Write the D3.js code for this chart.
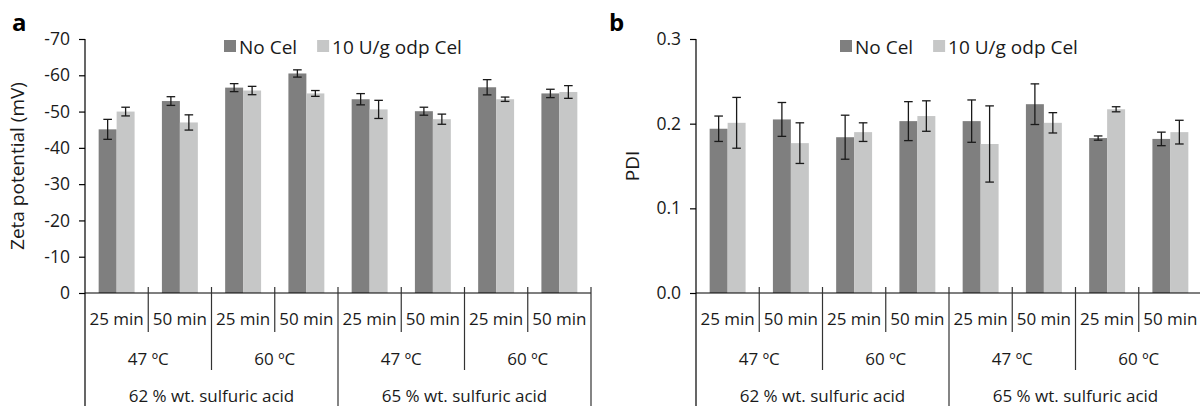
<!DOCTYPE html>
<html>
<head>
<meta charset="utf-8">
<script src="https://cdn.jsdelivr.net/npm/d3@7"></script>
<style>
    body { margin: 0; background: #fff; }
    svg { display: block; }
</style>
</head>
<body>
<div id="chart"></div>
<script>
// categories (three levels of the x axis)
const times = ["25 min", "50 min", "25 min", "50 min", "25 min", "50 min", "25 min", "50 min"];
const temps = ["47 ºC", "60 ºC", "47 ºC", "60 ºC"];
const acids = ["62 % wt. sulfuric acid", "65 % wt. sulfuric acid"];
const seriesNames = ["No Cel", "10 U/g odp Cel"];

// panel a: zeta potential (mV)
const zetaNoCel = [-45.1, -52.9, -56.6, -60.5, -53.4, -50.1, -56.7, -55.0];
const zetaNoCelErr = [2.75, 1.2, 1.1, 1.0, 1.55, 1.1, 2.1, 1.15];
const zetaCel = [-50.0, -47.0, -55.8, -55.0, -50.6, -47.9, -53.4, -55.4];
const zetaCelErr = [1.2, 2.1, 1.15, 0.8, 2.5, 1.4, 0.6, 1.75];
const zetaTicks = [0, -10, -20, -30, -40, -50, -60, -70];

// panel b: PDI
const pdiNoCel = [0.194, 0.205, 0.184, 0.203, 0.203, 0.223, 0.183, 0.182];
const pdiNoCelErr = [0.015, 0.020, 0.026, 0.023, 0.025, 0.024, 0.0025, 0.008];
const pdiCel = [0.201, 0.177, 0.190, 0.209, 0.176, 0.201, 0.217, 0.190];
const pdiCelErr = [0.030, 0.024, 0.011, 0.018, 0.045, 0.012, 0.003, 0.014];
const pdiTicks = [0, 0.1, 0.2, 0.3];

const font = "'Open Sans', sans-serif";
const colours = ["#7f7f7f", "#c6c7c7"];

const svg = d3.select("#chart").append("svg")
    .attr("width", 1200)
    .attr("height", 406);

drawPanel({
    letter: "a", letterX: 12,
    left: 85, right: 591,
    domain: [0, -70], ticks: zetaTicks, tickFormat: d => String(d),
    title: "Zeta potential (mV)", titleX: 17,
    legendX: 224,
    values: [zetaNoCel, zetaCel], errors: [zetaNoCelErr, zetaCelErr]
});

drawPanel({
    letter: "b", letterX: 609,
    left: 696, right: 1202,
    domain: [0, 0.3], ticks: pdiTicks, tickFormat: d3.format(".1f"),
    title: "PDI", titleX: 632,
    legendX: 840,
    values: [pdiNoCel, pdiCel], errors: [pdiNoCelErr, pdiCelErr]
});

function drawPanel(cfg) {
    const top = 39, base = 293;
    const g = svg.append("g");

    const idx = d3.range(times.length);
    const x0 = d3.scaleBand().domain(idx).range([cfg.left, cfg.right]);
    const x1 = d3.scaleBand().domain([0, 1]).range([0, x0.bandwidth()]).paddingOuter(0.76);
    const y = d3.scaleLinear().domain(cfg.domain).range([base, top]);

    // panel letter
    g.append("text")
        .attr("x", cfg.letterX).attr("y", 31)
        .style("font-family", font).style("font-weight", 700).style("font-size", "24px")
        .text(cfg.letter);

    // y axis
    g.append("g")
        .attr("transform", `translate(${cfg.left}, 0)`)
        .style("font-family", font)
        .style("font-size", "17.5px")
        .call(d3.axisLeft(y)
            .tickValues(cfg.ticks)
            .tickFormat(cfg.tickFormat)
            .tickSize(6)
            .tickPadding(9)
            .tickSizeOuter(0))
        .call(a => a.select(".domain").remove())
        .call(a => a.selectAll(".tick line").attr("stroke", "#000").attr("stroke-width", 1.2))
        .call(a => a.selectAll(".tick text").attr("fill", "#1a1a1a"));

    g.append("line")
        .attr("x1", cfg.left).attr("x2", cfg.left)
        .attr("y1", top).attr("y2", 406)
        .attr("stroke", "#000").attr("stroke-width", 1.2);

    // y title
    g.append("text")
        .attr("transform", `translate(${cfg.titleX}, ${(top + base) / 2}) rotate(-90)`)
        .attr("text-anchor", "middle")
        .attr("dominant-baseline", "central")
        .style("font-family", font).style("font-size", "19px")
        .attr("fill", "#1a1a1a")
        .text(cfg.title);

    // bars
    cfg.values.forEach((vals, s) => {
        g.append("g")
            .selectAll("rect")
            .data(idx)
            .enter()
            .append("rect")
            .attr("fill", colours[s])
            .attr("x", i => x0(i) + x1(s))
            .attr("width", x1.bandwidth())
            .attr("y", i => Math.min(y(vals[i]), y(0)))
            .attr("height", i => Math.abs(y(0) - y(vals[i])));
    });

    // error bars
    cfg.values.forEach((vals, s) => {
        const errs = cfg.errors[s];
        const eg = g.append("g")
            .attr("stroke", "#1a1a1a")
            .attr("stroke-width", 1.3);
        idx.forEach(i => {
            const cx = x0(i) + x1(s) + x1.bandwidth() / 2;
            const hi = y(vals[i] + errs[i]);
            const lo = y(vals[i] - errs[i]);
            eg.append("line").attr("x1", cx).attr("x2", cx).attr("y1", hi).attr("y2", lo);
            eg.append("line").attr("x1", cx - 4.3).attr("x2", cx + 4.3).attr("y1", hi).attr("y2", hi);
            eg.append("line").attr("x1", cx - 4.3).attr("x2", cx + 4.3).attr("y1", lo).attr("y2", lo);
        });
    });

    // x axis line
    g.append("line")
        .attr("x1", cfg.left).attr("x2", cfg.right)
        .attr("y1", base).attr("y2", base)
        .attr("stroke", "#000").attr("stroke-width", 1.2);

    // category separators: deeper lines for higher levels
    d3.range(1, times.length + 1).forEach(k => {
        const xb = k < times.length ? x0(k) : cfg.right;
        const yEnd = k % 4 === 0 ? 406 : (k % 2 === 0 ? 370 : 332);
        g.append("line")
            .attr("x1", xb).attr("x2", xb)
            .attr("y1", base - 6).attr("y2", yEnd)
            .attr("stroke", "#333").attr("stroke-width", 1.2);
    });

    const labelStyle = sel => sel
        .attr("text-anchor", "middle")
        .attr("dominant-baseline", "central")
        .style("font-family", font)
        .style("font-size", "17px")
        .attr("fill", "#1a1a1a");

    g.append("g").selectAll("text")
        .data(times).enter().append("text")
        .attr("x", (d, i) => x0(i) + x0.bandwidth() / 2)
        .attr("y", 318)
        .call(labelStyle)
        .text(d => d);

    g.append("g").selectAll("text")
        .data(temps).enter().append("text")
        .attr("x", (d, j) => x0(2 * j) + x0.bandwidth())
        .attr("y", 358)
        .call(labelStyle)
        .text(d => d);

    g.append("g").selectAll("text")
        .data(acids).enter().append("text")
        .attr("x", (d, j) => x0(4 * j) + 2 * x0.bandwidth())
        .attr("y", 395)
        .call(labelStyle)
        .text(d => d);

    // legend
    const lg = g.append("g").attr("transform", `translate(${cfg.legendX}, 40)`);
    let lx = 0;
    seriesNames.forEach((name, s) => {
        lg.append("rect")
            .attr("x", lx).attr("y", 0)
            .attr("width", 12).attr("height", 12)
            .attr("fill", colours[s]);
        const t = lg.append("text")
            .attr("x", lx + 15).attr("y", 6.5)
            .attr("dominant-baseline", "central")
            .style("font-family", font).style("font-size", "19px")
            .attr("fill", "#1a1a1a")
            .text(name);
        lx += 15 + t.node().getComputedTextLength() + 20;
    });
}
</script>
</body>
</html>
